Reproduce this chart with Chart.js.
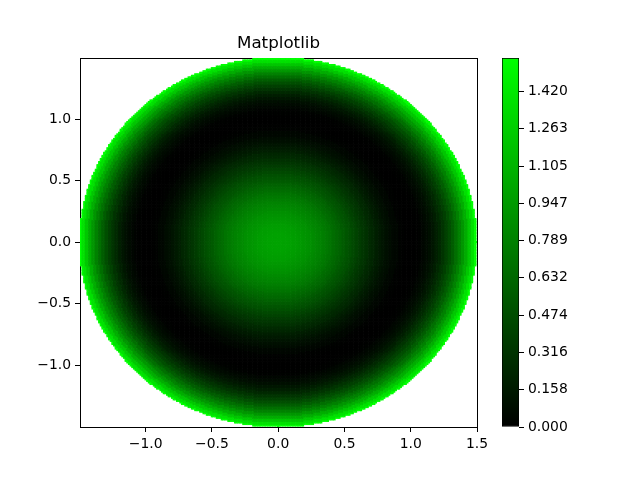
<!DOCTYPE html>
<html>
<head>
<meta charset="utf-8">
<script src="https://cdn.jsdelivr.net/npm/chart.js@4.4.0/dist/chart.umd.min.js"></script>
<style>
  body { margin: 0; background: #fff; }
  #wrap { position: relative; width: 640px; height: 480px; }
  canvas { position: absolute; left: 0; top: 0; }
</style>
</head>
<body>
<div id="wrap">
  <canvas id="mainChart" width="640" height="480"></canvas>
  <canvas id="cbarChart" width="640" height="480"></canvas>
</div>
<script>
// radial profile: one value every 0.025 of radius, r = 0 .. 1.5
const radialStep = 0.025;
const radialValues = [
  1.00, 1.00, 0.99, 0.99, 0.98, 0.97, 0.96, 0.94, 0.92, 0.90,
  0.88, 0.85, 0.83, 0.80, 0.77, 0.74, 0.71, 0.67, 0.64, 0.60,
  0.56, 0.52, 0.49, 0.45, 0.41, 0.37, 0.33, 0.30, 0.26, 0.23,
  0.19, 0.16, 0.13, 0.10, 0.08, 0.05, 0.04, 0.02, 0.01, 0.00,
  0.00, 0.00, 0.01, 0.02, 0.04, 0.07, 0.10, 0.14, 0.19, 0.25,
  0.32, 0.39, 0.48, 0.57, 0.68, 0.79, 0.92, 1.06, 1.22, 1.38,
  1.56
];
const xTicks = [-1.0, -0.5, 0.0, 0.5, 1.0, 1.5];
const yTicks = [-1.0, -0.5, 0.0, 0.5, 1.0];
const cbarTicks = [0, 0.158, 0.316, 0.474, 0.632, 0.789, 0.947, 1.105, 1.263, 1.420];
const vmin = 0;
const vmax = 1.5625;

//black -> green colormap
function greenMap(v) {
  var t = (v - vmin) / (vmax - vmin);
  if (t < 0) t = 0;
  if (t > 1) t = 1;
  return "rgb(0," + Math.round(t * 255) + ",0)";
}

//grid cells inside the disk (half the profile step), value looked up from the radial profile
const rMax = (radialValues.length - 1) * radialStep;
const cellStep = radialStep / 2;
const nCells = Math.round(rMax / cellStep);
const cells = [];
for (let i = -nCells; i <= nCells; i++) {
  for (let j = -nCells; j <= nCells; j++) {
    const x = i * cellStep;
    const y = j * cellStep;
    const r = Math.hypot(x, y);
    if (r <= rMax) {
      const k = Math.round(r / radialStep);
      cells.push({ x: x, y: y, v: radialValues[k] });
    }
  }
}

const tickFont = { family: "'DejaVu Sans', sans-serif", size: 13.9 };
const fmt1 = (v) => v.toFixed(1).replace("-", "\u2212");

//main plot
new Chart(document.getElementById("mainChart"), {
  type: "scatter",
  data: {
    datasets: [
      {
        data: cells,
        pointStyle: "rect",
        pointRadius: 1.6,
        pointBorderWidth: 0,
        backgroundColor: (c) => greenMap(c.raw ? c.raw.v : 0),
        clip: 0,
      },
    ],
  },
  options: {
    responsive: false,
    animation: false,
    events: [],
    layout: { padding: { left: 0, right: 163, top: 0, bottom: 0 } },
    plugins: {
      legend: { display: false },
      tooltip: { enabled: false },
      title: {
        display: true,
        text: "Matplotlib",
        fullSize: false,
        color: "#000",
        font: { family: "'DejaVu Sans', sans-serif", size: 16.7, weight: "normal", lineHeight: 1.2 },
        padding: { top: 34, bottom: 4 },
      },
    },
    scales: {
      x: {
        type: "linear",
        min: -1.495,
        max: 1.5,
        afterBuildTicks: (s) => { s.ticks = xTicks.map((v) => ({ value: v })); },
        afterFit: (s) => { s.height = 53; },
        ticks: { callback: (v) => fmt1(v), color: "#000", font: tickFont, padding: 4, maxRotation: 0, autoSkip: false },
        grid: { drawOnChartArea: false, tickLength: 5, color: "#000" },
        border: { color: "#000", width: 1 },
      },
      y: {
        type: "linear",
        min: -1.5,
        max: 1.495,
        afterBuildTicks: (s) => { s.ticks = yTicks.map((v) => ({ value: v })); },
        afterFit: (s) => { s.width = 80; },
        ticks: { callback: (v) => fmt1(v), color: "#000", font: tickFont, padding: 4, autoSkip: false },
        grid: { drawOnChartArea: false, tickLength: 5, color: "#000" },
        border: { color: "#000", width: 1 },
      },
      x2: {
        type: "linear",
        position: "top",
        afterFit: (s) => { s.height = 0; },
        ticks: { display: false },
        grid: { drawOnChartArea: false, drawTicks: false },
        border: { color: "#000", width: 1 },
      },
      y2: {
        type: "linear",
        position: "right",
        afterFit: (s) => { s.width = 0; },
        ticks: { display: false },
        grid: { drawOnChartArea: false, drawTicks: false },
        border: { color: "#000", width: 1 },
      },
    },
  },
});

//colorbar
new Chart(document.getElementById("cbarChart"), {
  type: "bar",
  data: {
    labels: [""],
    datasets: [
      {
        data: [vmax],
        backgroundColor: (c) => {
          const ch = c.chart;
          const a = ch.chartArea;
          if (!a) return "#00ff00";
          const g = ch.ctx.createLinearGradient(0, a.bottom, 0, a.top);
          g.addColorStop(0, greenMap(vmin));
          g.addColorStop(1, greenMap(vmax));
          return g;
        },
        borderColor: "#000",
        borderWidth: 1,
        borderSkipped: false,
        barPercentage: 1,
        categoryPercentage: 1,
      },
    ],
  },
  options: {
    responsive: false,
    animation: false,
    events: [],
    layout: { padding: { left: 502, right: 0, top: 58, bottom: 53 } },
    plugins: { legend: { display: false }, tooltip: { enabled: false } },
    scales: {
      x: { display: false },
      y: {
        position: "right",
        min: vmin,
        max: vmax,
        afterBuildTicks: (s) => { s.ticks = cbarTicks.map((v) => ({ value: v })); },
        afterFit: (s) => { s.width = 121; },
        ticks: { callback: (v) => v.toFixed(3), color: "#000", font: tickFont, padding: 4, autoSkip: false },
        grid: { drawOnChartArea: false, tickLength: 5, color: "#000" },
        border: { display: false },
      },
    },
  },
});
</script>
</body>
</html>
